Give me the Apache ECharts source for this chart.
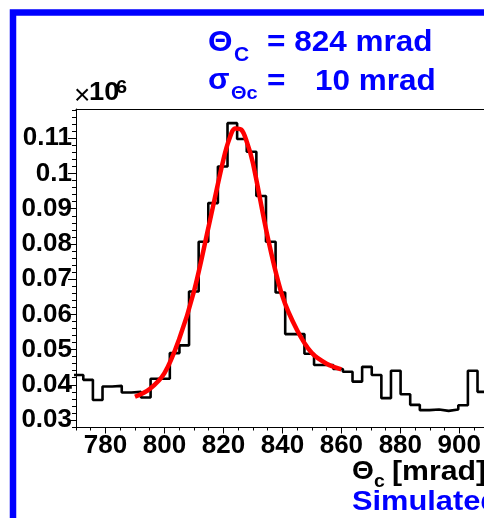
<!DOCTYPE html>
<html>
<head>
<meta charset="utf-8">
<script src="https://cdn.jsdelivr.net/npm/echarts@6/dist/echarts.min.js"></script>
<style>
  html, body { margin: 0; padding: 0; background: #fff; }
  #chart { width: 484px; height: 518px; }
</style>
</head>
<body>
<div id="chart"></div>
<script>
// Reconstructed Cherenkov angle distribution with Gaussian fit
const binLow = 769.21;   // lower edge of the first bin [mrad]
const binWidth = 3.261;  // bin width [mrad]
const counts = [
  0.0428, 0.0414, 0.0357, 0.0395, 0.0397, 0.0378, 0.0380, 0.0364, 0.0417, 0.0417,
  0.0490, 0.0512, 0.0665, 0.0806, 0.0916, 0.1020, 0.1143, 0.1098, 0.1062, 0.0936,
  0.0806, 0.0662, 0.0544, 0.0544, 0.0488, 0.0456, 0.0456, 0.0445, 0.0437, 0.0409,
  0.0451, 0.0428, 0.0362, 0.0440, 0.0373, 0.0343, 0.0328, 0.0330, 0.0326, 0.0330,
  0.0342, 0.0440, 0.0380
];
const fitX = [790, 795, 800, 805, 810, 815, 820, 822, 824, 826, 828, 830, 835, 840, 845, 850, 855, 860];
const fitY = [0.0366, 0.0388, 0.0433, 0.0530, 0.0665, 0.0850, 0.1040, 0.1098, 0.1128, 0.1125,
              0.1088, 0.1030, 0.0820, 0.0652, 0.0555, 0.0490, 0.0460, 0.0444];
const xTickValues = [780, 800, 820, 840, 860, 880, 900];
const yTickValues = [0.03, 0.04, 0.05, 0.06, 0.07, 0.08, 0.09, 0.10, 0.11];
const yTickLabels = ['0.03', '0.04', '0.05', '0.06', '0.07', '0.08', '0.09', '0.1', '0.11'];

const X_MIN = 770, X_MAX = 908.3;
const Y_MIN = 0.02787, Y_MAX = 0.11832;

const xMinor = [];
for (let v = X_MIN; v <= X_MAX; v += 5) xMinor.push(v);
const yMinor = [];
for (let i = 0; i * 0.002 + 0.028 <= Y_MAX + 1e-9; i++) yMinor.push(+(0.028 + i * 0.002).toFixed(3));

// histogram outline: one point per bin edge, drawn as steps
const histData = counts.map((c, i) => [binLow + i * binWidth, c]);
histData.push([binLow + counts.length * binWidth, counts[counts.length - 1]]);
const fitData = fitX.map((x, i) => [x, fitY[i]]);

const FONT = 'Liberation Sans, Arial, Helvetica, sans-serif';
const BLUE = '#0000ff';

const chart = echarts.init(document.getElementById('chart'), null, { renderer: 'canvas' });

// text placed at (x, y) with its vertical middle on y, optionally stretched horizontally
const txt = (text, x, y, size, color, sx, weight) => ({
  type: 'text', z: 100, x, y, scaleX: sx || 1, originX: 0, originY: 0,
  style: {
    text, x: 0, y: 0, fill: color,
    font: (weight || 'bold') + ' ' + size + 'px ' + FONT,
    verticalAlign: 'middle', align: 'left'
  }
});

const baseX = {
  type: 'value', min: X_MIN, max: X_MAX,
  axisLabel: { show: false }, axisTick: { show: false }, axisLine: { show: false },
  splitLine: { show: false }
};
const baseY = {
  type: 'value', min: Y_MIN, max: Y_MAX,
  axisLabel: { show: false }, axisTick: { show: false }, axisLine: { show: false },
  splitLine: { show: false }
};

chart.setOption({
  animation: false,
  backgroundColor: '#fff',
  grid: { left: 76, top: 109, right: 0, bottom: 90.5, show: false },
  xAxis: [
    Object.assign({}, baseX, {
      position: 'bottom',
      axisLine: { show: true, onZero: false, lineStyle: { color: '#000', width: 1 } },
      axisTick: { show: true, inside: false, length: 6, customValues: xTickValues, lineStyle: { color: '#000', width: 1 } },
      axisLabel: {
        show: true, customValues: xTickValues, color: '#000', fontSize: 26, fontWeight: 'bold',
        fontFamily: FONT, margin: 5
      }
    }),
    Object.assign({}, baseX, {
      position: 'bottom',
      axisTick: { show: true, inside: false, length: 3, customValues: xMinor, lineStyle: { color: '#000', width: 1 } }
    }),
    Object.assign({}, baseX, {
      position: 'top',
      axisLine: { show: true, onZero: false, lineStyle: { color: '#000', width: 1 } }
    })
  ],
  yAxis: [
    Object.assign({}, baseY, {
      position: 'left',
      axisLine: { show: true, onZero: false, lineStyle: { color: '#000', width: 1 } },
      axisTick: { show: true, inside: false, length: 8, customValues: yTickValues, lineStyle: { color: '#000', width: 1 } },
      axisLabel: {
        show: true, customValues: yTickValues, color: '#000', fontSize: 26, fontWeight: 'bold',
        fontFamily: FONT, margin: 4,
        formatter: (v) => {
          const i = yTickValues.findIndex(t => Math.abs(t - v) < 1e-6);
          return i >= 0 ? yTickLabels[i] : '';
        }
      }
    }),
    Object.assign({}, baseY, {
      position: 'left',
      axisTick: { show: true, inside: false, length: 4, customValues: yMinor, lineStyle: { color: '#000', width: 1 } }
    })
  ],
  series: [
    {
      name: 'histogram', type: 'line', step: 'end',
      xAxisIndex: 0, yAxisIndex: 0,
      data: histData, showSymbol: false, symbol: 'none',
      lineStyle: { color: '#000', width: 2.6 }, clip: true, z: 2
    },
    {
      name: 'fit', type: 'line', smooth: 0.35,
      xAxisIndex: 0, yAxisIndex: 0,
      data: fitData, showSymbol: false, symbol: 'none',
      lineStyle: { color: '#ff0000', width: 4.5 }, clip: true, z: 3
    }
  ],
  graphic: [
    // blue frame
    { type: 'rect', z: 50, shape: { x: 13, y: 12.5, width: 600, height: 600 },
      style: { fill: 'none', stroke: BLUE, lineWidth: 6.5 } },
    // fit results
    txt('Θ', 208, 43, 30, BLUE, 1.05),
    txt('C', 234, 55, 20, BLUE, 1.05),
    txt('= 824 mrad', 267, 43, 30, BLUE, 1.05),
    txt('σ', 208, 81, 30, BLUE, 1.05),
    txt('Θc', 231, 94, 19, BLUE, 1.05),
    txt('=', 267, 82, 30, BLUE, 1.05),
    txt('10 mrad', 315, 82, 30, BLUE, 1.05),
    // axis multiplier
    txt('×', 74, 96, 28, '#000', 1, 'normal'),
    txt('10', 89, 93, 26, '#000', 1.05),
    txt('6', 116, 88, 19, '#000', 1.05),
    // axis title
    txt('Θ', 352, 472, 26, '#000', 1.08),
    txt('c', 374, 482, 18, '#000', 1.08),
    txt('[mrad]', 392, 472, 28, '#000', 1.08),
    txt('Simulated', 352, 502, 28, BLUE, 1.1)
  ]
});
</script>
</body>
</html>
